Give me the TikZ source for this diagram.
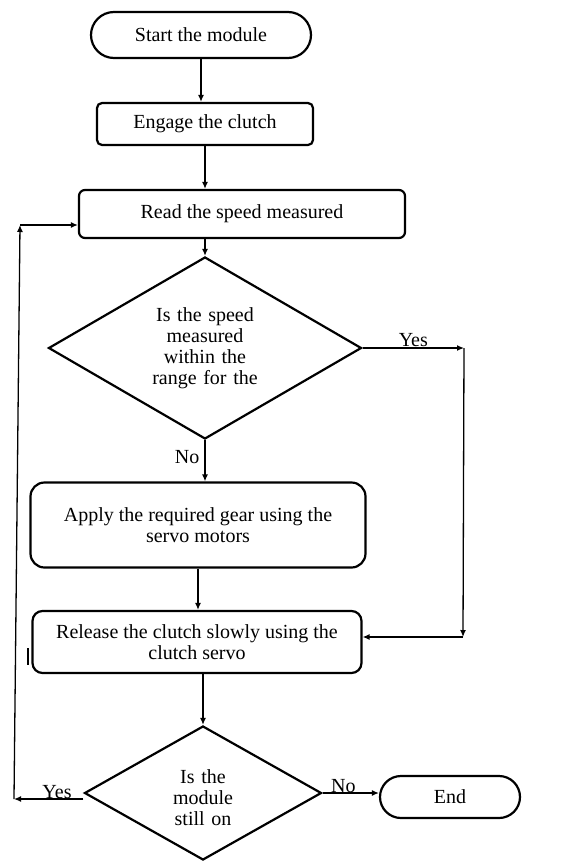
\documentclass[tikz,border=0pt]{standalone}
\usepackage{fontspec}
\setmainfont{Liberation Serif}
\usetikzlibrary{shapes.geometric, shapes.misc, positioning, calc, arrows.meta}

\begin{document}
\begin{tikzpicture}[x=1pt, y=-1pt, >={Latex[length=7pt,width=6pt]},
    every node/.style={font=\fontsize{20}{21}\selectfont},
    term/.style={rounded rectangle, draw, line width=2.2pt, inner sep=0pt},
    proc/.style={rectangle, draw, line width=2.2pt, align=center, inner sep=0pt},
    decision/.style={diamond, draw, line width=2.2pt, align=center, inner sep=0pt},
    flow/.style={->, line width=1.3pt},
    lbl/.style={inner sep=1pt}]

  \useasboundingbox (0,0) rectangle (576,862);

  \node[term, minimum width=220pt, minimum height=46pt] (start) at (201,35) {Start the module};
  \node[proc, rounded corners=5pt, minimum width=216pt, minimum height=42pt] (engage) at (205,124) {Engage the clutch};
  \node[proc, rounded corners=6pt, minimum width=326pt, minimum height=48pt] (read) at (242,214) {Read the speed measured};
  \node[decision, aspect=1.72, minimum width=313pt, minimum height=182pt, text width=150pt] (chk1) at (205,348)
    {Is the speed\\ measured\\ within the\\ range for the};
  \node[proc, rounded corners=14pt, minimum width=335pt, minimum height=85pt] (apply) at (198,525)
    {Apply the required gear using the\\ servo motors};
  \node[proc, rounded corners=10pt, minimum width=329pt, minimum height=62pt] (release) at (197,642)
    {Release the clutch slowly using the\\ clutch servo};
  \node[decision, aspect=1.77, minimum width=237pt, minimum height=134pt, text width=80pt] (chk2) at (203,793)
    {\rule{0pt}{24pt}Is the\\ module\\ still on};
  \node[term, minimum width=140pt, minimum height=42pt] (end) at (450,797) {End};

  % loop corners
  \coordinate (yesR) at (464,348);
  \coordinate (yesB) at (463,637);
  \coordinate (loopB) at (14,799);
  \coordinate (loopT) at (20,225);

  \draw[flow] (start.south) -- (start.south |- engage.north);
  \draw[flow] (engage.south) -- (engage.south |- read.north);
  \draw[flow] (chk1.north |- read.south) -- (chk1.north);
  \draw[flow] (chk1.south) -- node[lbl, left, pos=0.4, xshift=-4pt] {No} (chk1.south |- apply.north);
  \draw[flow] (apply.south) -- (apply.south |- release.north);
  \draw[flow] (chk2.north |- release.south) -- (chk2.north);

  \draw[flow] (chk1.east) -- node[lbl, above] {Yes} (yesR);
  \draw[flow] (yesR) -- (yesB);
  \draw[flow] (yesB) -- (release.east |- yesB);

  \draw[flow] (chk2.west |- loopB) -- node[lbl, above, inner sep=0pt, pos=0.38] {Yes} (loopB);
  \draw[flow] (loopB) -- (loopT);
  \draw[flow] (loopT) -- (read.west |- loopT);

  \draw[flow] (chk2.east) -- node[lbl, above, inner sep=0pt, pos=0.37] {No} (chk2.east -| end.west);

  \draw[line width=1.2pt] (28,648) -- (28,665);
\end{tikzpicture}
\end{document}
